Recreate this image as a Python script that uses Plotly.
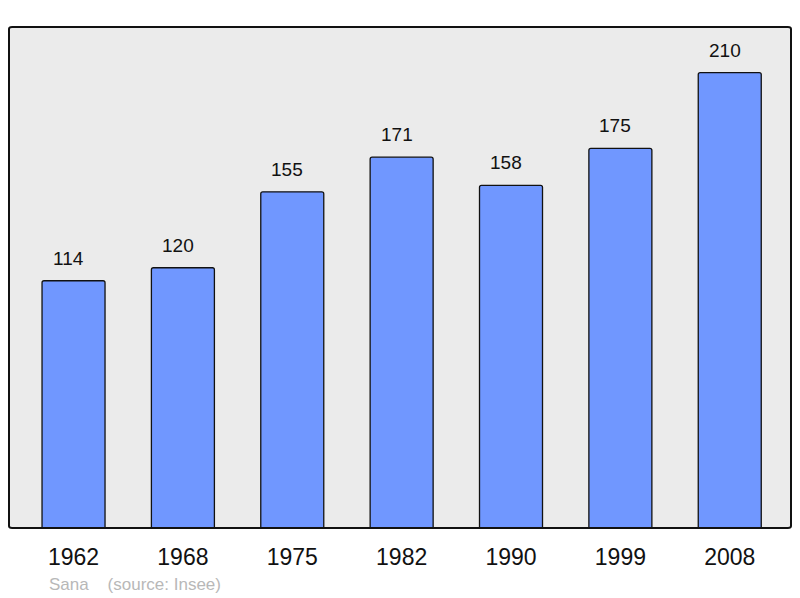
import plotly.graph_objects as go

years = ["1962", "1968", "1975", "1982", "1990", "1999", "2008"]
population = [114, 120, 155, 171, 158, 175, 210]
source_text = "Sana    (source: Insee)"

fig = go.Figure()
fig.add_trace(go.Bar(
    x=years, y=population, width=0.576,
    marker=dict(color="#7097ff", line=dict(color="#111111", width=1.3), cornerradius=2),
    hoverinfo="skip",
))
for i, v in enumerate(population):
    fig.add_annotation(x=i, y=v, text=str(v), showarrow=False, yanchor="bottom",
                       xshift=-5, yshift=10, font=dict(size=19, color="#111111"))

fig.add_annotation(x=0.051, y=0, xref="paper", yref="paper", xanchor="left", yanchor="top",
                   xshift=-2, yshift=-45, text=source_text.replace(" ", "&nbsp;"), showarrow=False,
                   font=dict(size=17, color="#b8b8b8"))

fig.add_shape(type="path", xref="paper", yref="paper",
              path="M 0,0.004 L 0,0.996 Q 0,1 0.004,1 L 0.996,1 Q 1,1 1,0.996 L 1,0.004 Q 1,0 0.996,0 L 0.004,0 Q 0,0 0,0.004 Z",
              line=dict(color="#111111", width=2), layer="above")

fig.update_layout(
    width=800, height=598,
    margin=dict(l=9, r=9, t=27, b=70),
    paper_bgcolor="white", plot_bgcolor="#ebebeb",
    font=dict(family="Liberation Sans, Arial, sans-serif"),
    showlegend=False,
    xaxis=dict(type="category", range=[-0.59, 6.56], showgrid=False, zeroline=False,
               ticks="outside", ticklen=8, tickcolor="rgba(0,0,0,0)",
               tickfont=dict(size=23, color="#111111")),
    yaxis=dict(range=[0, 231], showgrid=False, zeroline=False, showticklabels=False),
)
fig.write_html("out.html", config={"displayModeBar": False},
               post_script="document.body.style.margin='0';document.body.style.overflow='hidden';")
